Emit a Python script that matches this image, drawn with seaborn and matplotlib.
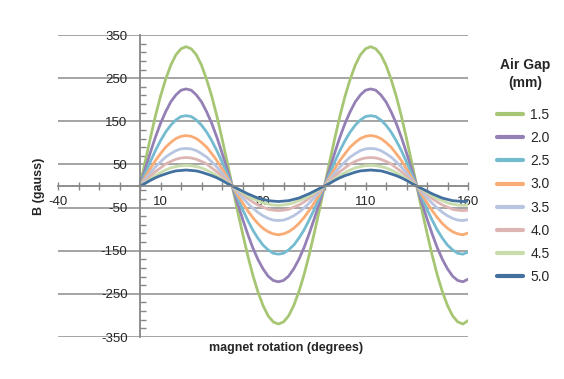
import numpy as np
import pandas as pd
import matplotlib
matplotlib.use("Agg")
import matplotlib.pyplot as plt
from matplotlib.lines import Line2D
from matplotlib.ticker import FixedLocator
import seaborn as sns

# ── data (every 2.5 degrees, 0 … 160) ───────────────────────────────────────
ANGLES = [i * 2.5 for i in range(65)]
GAPS   = ["1.5", "2.0", "2.5", "3.0", "3.5", "4.0", "4.5", "5.0"]

B_15 = [0, 56, 110, 162, 208, 247, 280, 304, 318, 323, 318, 304, 280, 247, 208, 162, 110, 56, 0,
        -56, -109, -160, -206, -245, -277, -301, -315, -320, -315, -301, -277, -245, -206, -160, -109, -56, 0,
        56, 110, 162, 208, 247, 280, 304, 318, 323, 318, 304, 280, 247, 208, 162, 110, 56, 0,
        -56, -109, -160, -206, -245, -277, -301, -315, -320, -312]
B_20 = [0, 39, 77, 113, 145, 172, 195, 211, 222, 225, 222, 211, 195, 172, 145, 113, 77, 39, 0,
        -39, -76, -111, -143, -170, -192, -209, -219, -222, -219, -209, -192, -170, -143, -111, -76, -39, 0,
        39, 77, 113, 145, 172, 195, 211, 222, 225, 222, 211, 195, 172, 145, 113, 77, 39, 0,
        -39, -76, -111, -143, -170, -192, -209, -219, -222, -216]
B_25 = [0, 28, 56, 82, 105, 125, 141, 153, 161, 163, 161, 153, 141, 125, 105, 82, 56, 28, 0,
        -27, -54, -79, -102, -121, -137, -148, -156, -158, -156, -148, -137, -121, -102, -79, -54, -27, 0,
        28, 56, 82, 105, 125, 141, 153, 161, 163, 161, 153, 141, 125, 105, 82, 56, 28, 0,
        -27, -54, -79, -102, -121, -137, -148, -156, -158, -153]
B_30 = [0, 20, 40, 59, 75, 90, 101, 110, 115, 117, 115, 110, 101, 90, 75, 59, 40, 20, 0,
        -20, -39, -57, -73, -87, -98, -106, -111, -113, -111, -106, -98, -87, -73, -57, -39, -20, 0,
        20, 40, 59, 75, 90, 101, 110, 115, 117, 115, 110, 101, 90, 75, 59, 40, 20, 0,
        -20, -39, -57, -73, -87, -98, -106, -111, -113, -109]
B_35 = [0, 15, 30, 44, 56, 67, 75, 82, 86, 87, 86, 82, 75, 67, 56, 44, 30, 15, 0,
        -14, -27, -40, -51, -61, -69, -75, -79, -80, -79, -75, -69, -61, -51, -40, -27, -14, 0,
        15, 30, 44, 56, 67, 75, 82, 86, 87, 86, 82, 75, 67, 56, 44, 30, 15, 0,
        -14, -27, -40, -51, -61, -69, -75, -79, -80, -78]
B_40 = [0, 11, 23, 33, 42, 51, 57, 62, 65, 66, 65, 62, 57, 51, 42, 33, 23, 11, 0,
        -10, -19, -29, -37, -44, -49, -54, -56, -57, -56, -54, -49, -44, -37, -29, -19, -10, 0,
        11, 23, 33, 42, 51, 57, 62, 65, 66, 65, 62, 57, 51, 42, 33, 23, 11, 0,
        -10, -19, -29, -37, -44, -49, -54, -56, -57, -56]
B_45 = [0, 8, 16, 24, 31, 37, 42, 45, 47, 48, 47, 45, 42, 37, 31, 24, 16, 8, 0,
        -8, -15, -23, -29, -34, -39, -42, -44, -45, -44, -42, -39, -34, -29, -23, -15, -8, 0,
        8, 16, 24, 31, 37, 42, 45, 47, 48, 47, 45, 42, 37, 31, 24, 16, 8, 0,
        -8, -15, -23, -29, -34, -39, -42, -44, -45, -44]
B_50 = [0, 6, 13, 19, 24, 28, 32, 35, 36, 37, 36, 35, 32, 28, 24, 19, 13, 6, 0,
        -6, -12, -18, -23, -28, -31, -34, -35, -36, -35, -34, -31, -28, -23, -18, -12, -6, 0,
        6, 13, 19, 24, 28, 32, 35, 36, 37, 36, 35, 32, 28, 24, 19, 13, 6, 0,
        -6, -12, -18, -23, -28, -31, -34, -35, -36, -35]

SERIES = [B_15, B_20, B_25, B_30, B_35, B_40, B_45, B_50]
COLORS = ["#A6C673", "#9580B6", "#74BBD0", "#F9AC75",
          "#B7C5E1", "#DDB5B3", "#C9DCAB", "#42709F"]

df = pd.concat(
    [pd.DataFrame({"angle": ANGLES, "B": vals, "gap": g})
     for g, vals in zip(GAPS, SERIES)],
    ignore_index=True,
)

# ── styling ────────────────────────────────────────────────────────────────
sns.set_style("white")
plt.rcParams["font.family"] = ["Liberation Sans", "DejaVu Sans"]
plt.rcParams["axes.unicode_minus"] = False
AXIS_GREY = "#868686"
GRID_GREY = "#8C8C8C"

fig = plt.figure(figsize=(5.64, 3.79), dpi=100)
ax = fig.add_axes([58 / 564, 1 - 337 / 379, 410 / 564, 302 / 379])

palette = dict(zip(GAPS, COLORS))
sns.lineplot(data=df, x="angle", y="B", hue="gap", hue_order=GAPS,
             palette=palette, linewidth=2.0, legend=False, ax=ax)

ax.set_xlim(-40, 160)
ax.set_ylim(-350, 350)

# axes cross at the origin, Excel style
for side in ("top", "right"):
    ax.spines[side].set_visible(False)
ax.spines["left"].set_position(("data", 0))
ax.spines["bottom"].set_position(("data", 0))
for side in ("left", "bottom"):
    ax.spines[side].set_color(AXIS_GREY)
    ax.spines[side].set_linewidth(1.3)

ax.set_yticks(np.arange(-350, 351, 100))
ax.yaxis.set_minor_locator(FixedLocator(np.arange(-350, 351, 20)))
ax.set_xticks(np.arange(-40, 161, 50))
ax.xaxis.set_minor_locator(FixedLocator(np.arange(-40, 161, 10)))

ax.yaxis.grid(True, color=GRID_GREY, linewidth=1.1)
ax.set_axisbelow(True)

ax.tick_params(which="both", left=True, bottom=True)
ax.tick_params(axis="y", which="major", length=0, pad=9, labelsize=9.5)
ax.tick_params(axis="y", which="minor", direction="in", length=4,
               color=AXIS_GREY, width=1)
ax.tick_params(axis="x", which="both", direction="inout", length=6,
               color=AXIS_GREY, width=1)
ax.tick_params(axis="x", which="major", pad=4, labelsize=9.5)

ax.set_xlabel("")
ax.set_ylabel("")
fig.text(39 / 564, 1 - 186 / 379, "B (gauss)", rotation=90,
         ha="center", va="center", fontsize=9, fontweight="bold")
fig.text(286 / 564, 1 - 348 / 379, "magnet rotation (degrees)",
         ha="center", va="center", fontsize=9, fontweight="bold")

# legend: title as separate text, entries below
fig.text(525 / 564, 1 - 74 / 379, "Air Gap\n(mm)", ha="center", va="center",
         fontsize=10, fontweight="bold", linespacing=1.3)
handles = [Line2D([0], [0], color=c, linewidth=3) for c in COLORS]
fig.legend(handles, GAPS, loc="upper left",
           bbox_to_anchor=(497 / 564, 1 - 108 / 379),
           frameon=False, fontsize=10, handlelength=1.9, borderpad=0,
           borderaxespad=0, handletextpad=0.5, labelspacing=0.66)

fig.savefig("out.png", dpi=100)
